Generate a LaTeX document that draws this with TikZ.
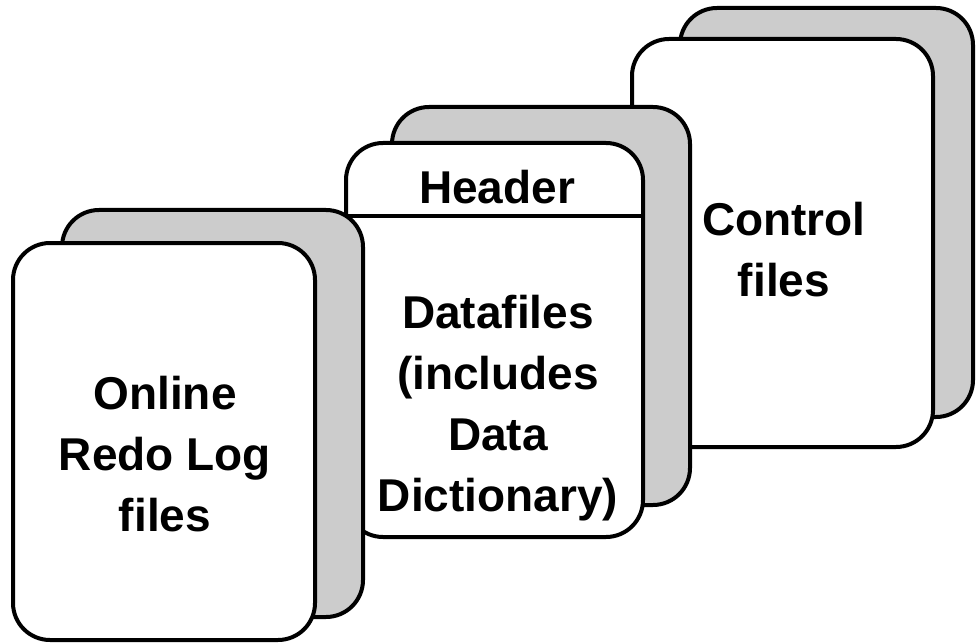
\documentclass[tikz,border=0pt]{standalone}
\usepackage{fontspec}
\setmainfont{Liberation Sans}
\definecolor{backgray}{HTML}{CCCCCC}
\begin{document}
\begin{tikzpicture}[x=1pt,y=-1pt,
  pagebase/.style={draw=black, line width=4pt, rounded corners=37pt, inner sep=0pt},
  backpage/.style={pagebase, fill=backgray},
  frontpage/.style={pagebase, fill=white},
  pagetext/.style={font=\bfseries\fontsize{46}{61}\selectfont, align=center, inner sep=0pt, anchor=base}]
\useasboundingbox (0,0) rectangle (976,644);
% stack 3: control files
\node[backpage, minimum width=293pt, minimum height=409pt] (b3) at (826.5,212.5) {};
\node[frontpage, minimum width=301pt, minimum height=408pt] (f3) at (782.5,243) {};
\node[pagetext] (t3) at (784,296) {Control\\files};
% stack 2: datafiles
\node[backpage, minimum width=298pt, minimum height=398pt] (b2) at (541,306) {};
\node[frontpage, minimum width=297pt, minimum height=394pt] (f2) at (494.5,340) {};
\path (f2.north) ++(0,75) coordinate (hdr);
\draw[line width=4pt] (hdr -| f2.west) -- (hdr -| f2.east);
\node[pagetext] (h2) at (497,204) {Header};
\node[pagetext] (t2) at (498,511) {Datafiles\\(includes\\Data\\Dictionary)};
% stack 1: online redo log files
\node[backpage, minimum width=301pt, minimum height=407pt] (b1) at (212.5,413.5) {};
\node[frontpage, minimum width=302pt, minimum height=397pt] (f1) at (164,441.5) {};
\node[pagetext] (t1) at (165,531) {Online\\Redo Log\\files};
\end{tikzpicture}
\end{document}
